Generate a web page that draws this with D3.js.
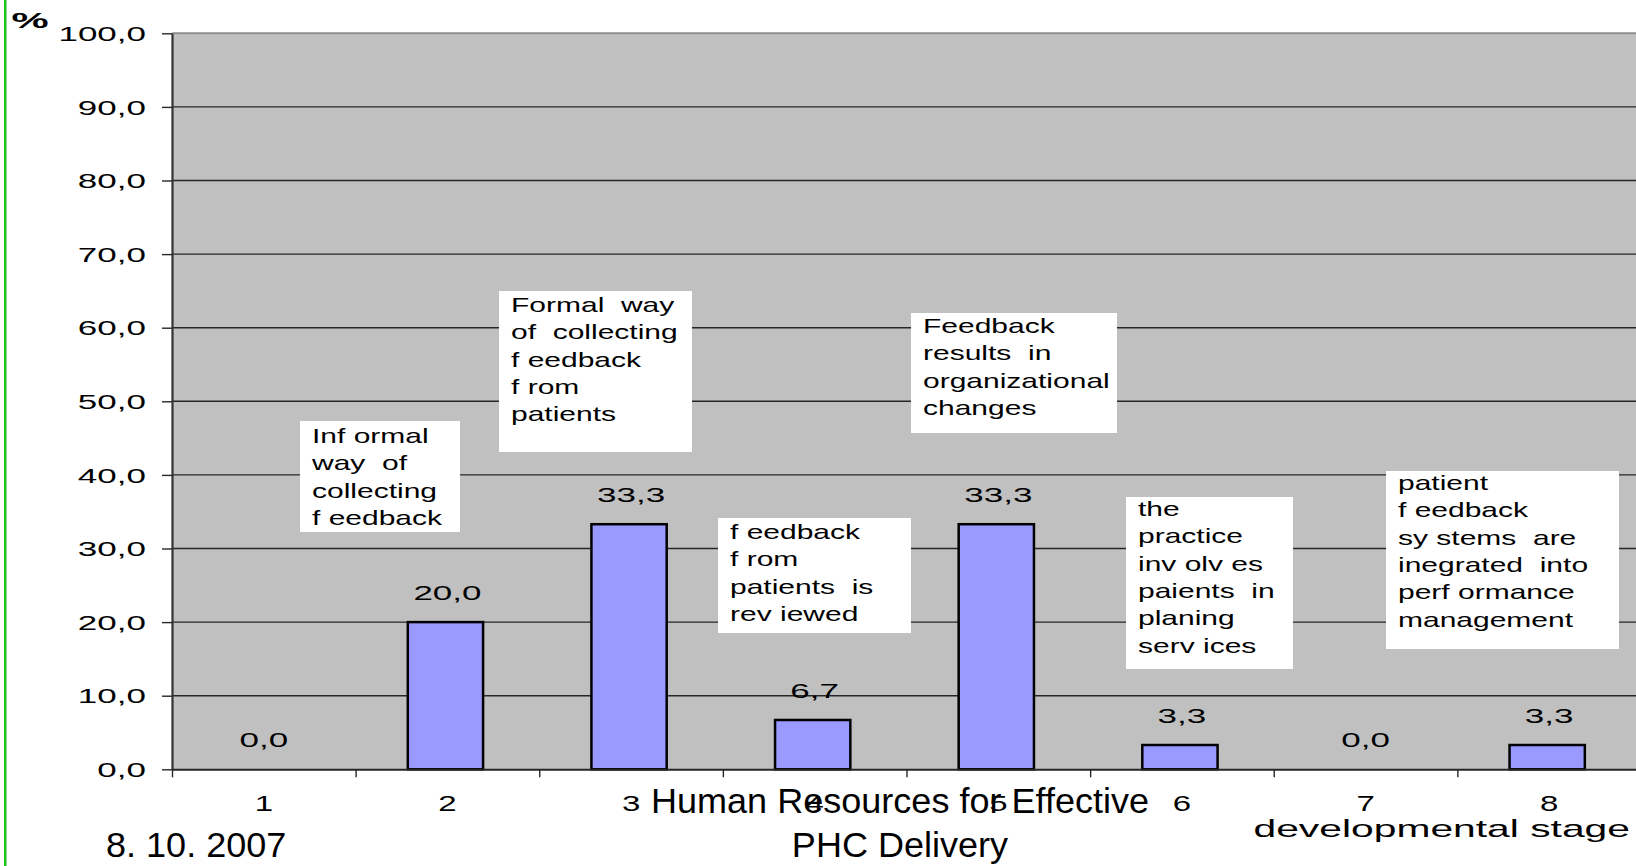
<!DOCTYPE html>
<html>
<head>
<meta charset="utf-8">
<script src="https://cdn.jsdelivr.net/npm/d3@7"></script>
<style>
  body { margin: 0; background: #fff; overflow: hidden; }
  svg { display: block; }
  text { font-family: "Liberation Sans", Arial, sans-serif; fill: #000; }
</style>
</head>
<body>
<div id="chart"></div>
<script>
// data
var stages = ['1', '2', '3', '4', '5', '6', '7', '8'];
var percents = [0.0, 20.0, 33.3, 6.7, 33.3, 3.3, 0.0, 3.3];
var yTickValues = [0, 10, 20, 30, 40, 50, 60, 70, 80, 90, 100];
var noteLines = [
    ['Inf ormal', 'way  of', 'collecting', 'f eedback'],
    ['Formal  way', 'of  collecting', 'f eedback', 'f rom', 'patients'],
    ['f eedback', 'f rom', 'patients  is', 'rev iewed'],
    ['Feedback', 'results  in', 'organizational', 'changes'],
    ['the', 'practice', 'inv olv es', 'paients  in', 'planing', 'serv ices'],
    ['patient', 'f eedback', 'sy stems  are', 'inegrated  into', 'perf ormance', 'management']
];
var axisTitle = 'developmental stage';
var unitLabel = '%';
var footerDate = '8. 10. 2007';
var footerLines = ['Human Resources for Effective', 'PHC Delivery'];

// layout of the text boxes (pixels)
var noteBoxes = [
    { x: 300, y: 421, w: 160, h: 111, first: 443 },
    { x: 499, y: 291, w: 193, h: 161, first: 312 },
    { x: 718, y: 518, w: 193, h: 115, first: 539 },
    { x: 911, y: 313, w: 206, h: 120, first: 333 },
    { x: 1126, y: 497, w: 167, h: 172, first: 516 },
    { x: 1386, y: 471, w: 233, h: 178, first: 490 }
];

var width = 1636,
    height = 866,
    plot = { left: 172, right: 1641, top: 33.3, bottom: 769.3 };

var svg = d3.select('#chart')
    .append('svg')
    .attr('width', width)
    .attr('height', height);

var xScale = d3.scaleBand().domain(stages).range([plot.left, plot.right]).padding(0);
var yScale = d3.scaleLinear().domain([0, 100]).range([plot.bottom, plot.top]);
var fmt = function (v) { return d3.format('.1f')(v).replace('.', ','); };

// stretch text horizontally (the slide text is widened)
function stretch(sel, sx) {
    sel.each(function () {
        var t = d3.select(this);
        var x = +t.attr('x') || 0, y = +t.attr('y') || 0;
        t.attr('x', 0).attr('y', 0)
            .attr('transform', 'translate(' + x + ',' + y + ') scale(' + sx + ',1)');
    });
}

// green slide edge
svg.append('rect')
    .attr('x', 4).attr('y', 0)
    .attr('width', 2.5).attr('height', height)
    .attr('fill', '#1cc41c');

// plot area
svg.append('rect')
    .attr('x', plot.left).attr('y', plot.top)
    .attr('width', plot.right - plot.left)
    .attr('height', plot.bottom - plot.top)
    .attr('fill', '#c0c0c0');

svg.append('g')
    .selectAll('line')
    .data(yTickValues.filter(function (d) { return d > 0 && d < 100; }))
    .enter().append('line')
    .attr('x1', plot.left).attr('x2', plot.right)
    .attr('y1', function (d) { return yScale(d); })
    .attr('y2', function (d) { return yScale(d); })
    .attr('stroke', '#262626')
    .attr('stroke-width', 1.4);

svg.append('line')
    .attr('x1', plot.left).attr('x2', plot.right)
    .attr('y1', yScale(100)).attr('y2', yScale(100))
    .attr('stroke', '#8e8e8e')
    .attr('stroke-width', 2);

// bars
var barW = xScale.bandwidth() * 0.41;
svg.append('g')
    .selectAll('rect')
    .data(percents)
    .enter().append('rect')
    .attr('x', function (d, i) { return xScale(stages[i]) + xScale.bandwidth() / 2 - barW / 2 - 2; })
    .attr('y', function (d) { return yScale(d); })
    .attr('width', barW)
    .attr('height', function (d) { return yScale(0) - yScale(d); })
    .attr('fill', function (d) { return d > 0 ? '#9999ff' : 'none'; })
    .attr('stroke', function (d) { return d > 0 ? '#000' : 'none'; })
    .attr('stroke-width', 2.5);

// value labels
svg.append('g')
    .selectAll('text')
    .data(percents)
    .enter().append('text')
    .attr('x', function (d, i) { return xScale(stages[i]) + xScale.bandwidth() / 2; })
    .attr('y', function (d) { return yScale(d) - 22; })
    .attr('text-anchor', 'middle')
    .style('font-size', '20px')
    .text(fmt)
    .call(stretch, 1.75);

// y axis
var yAxis = d3.axisLeft(yScale).tickValues(yTickValues).tickSize(10).tickSizeOuter(0).tickFormat(fmt);
var gy = svg.append('g')
    .attr('transform', 'translate(' + plot.left + ',0)')
    .call(yAxis);
gy.select('.domain').attr('stroke', '#333').attr('stroke-width', 2.2);
gy.selectAll('.tick line').attr('stroke', '#262626').attr('stroke-width', 1.4);
gy.selectAll('.tick text')
    .attr('x', -26).attr('y', 0).attr('dy', '0.36em')
    .style('font-size', '20px')
    .call(stretch, 1.75);

// x axis: ticks on band boundaries, labels centred in bands
var xEdges = d3.scaleLinear().domain([0, stages.length]).range([plot.left, plot.right]);
var gxTicks = svg.append('g')
    .attr('transform', 'translate(0,' + plot.bottom + ')')
    .call(d3.axisBottom(xEdges).ticks(stages.length).tickSize(8).tickSizeOuter(0).tickFormat(''));
gxTicks.select('.domain').attr('stroke', '#262626').attr('stroke-width', 2);
gxTicks.selectAll('.tick line').attr('stroke', '#262626').attr('stroke-width', 1.4);

svg.append('g')
    .selectAll('text')
    .data(stages)
    .enter().append('text')
    .attr('x', function (d) { return xScale(d) + xScale.bandwidth() / 2; })
    .attr('y', 811)
    .attr('text-anchor', 'middle')
    .style('font-size', '22px')
    .text(function (d) { return d; })
    .call(stretch, 1.5);

svg.append('text')
    .attr('x', 1630).attr('y', 837)
    .attr('text-anchor', 'end')
    .style('font-size', '24px')
    .text(axisTitle)
    .call(stretch, 1.7);

svg.append('text')
    .attr('x', 30).attr('y', 28)
    .attr('text-anchor', 'middle')
    .style('font-size', '22px')
    .style('font-weight', 'bold')
    .text(unitLabel)
    .call(stretch, 1.9);

// text boxes
var notes = svg.selectAll('.note')
    .data(noteLines)
    .enter().append('g')
    .attr('class', 'note');

notes.append('rect')
    .attr('x', function (d, i) { return noteBoxes[i].x; })
    .attr('y', function (d, i) { return noteBoxes[i].y; })
    .attr('width', function (d, i) { return noteBoxes[i].w; })
    .attr('height', function (d, i) { return noteBoxes[i].h; })
    .attr('fill', '#fff');

notes.each(function (lines, i) {
    var box = noteBoxes[i];
    d3.select(this).selectAll('text')
        .data(lines)
        .enter().append('text')
        .attr('x', box.x + 12)
        .attr('y', function (d, j) { return box.first + j * 27.3; })
        .attr('xml:space', 'preserve')
        .style('white-space', 'pre')
        .style('font-size', '20px')
        .text(function (d) { return d; })
        .call(stretch, 1.5);
});

// slide footer
svg.append('text')
    .attr('x', 106).attr('y', 857)
    .style('font-size', '35px')
    .text(footerDate)
    .call(stretch, 1.03);

svg.append('g')
    .selectAll('text')
    .data(footerLines)
    .enter().append('text')
    .attr('x', 900)
    .attr('y', function (d, i) { return 813 + i * 44; })
    .attr('text-anchor', 'middle')
    .style('font-size', '35px')
    .text(function (d) { return d; })
    .call(stretch, 1.03);
</script>
</body>
</html>
